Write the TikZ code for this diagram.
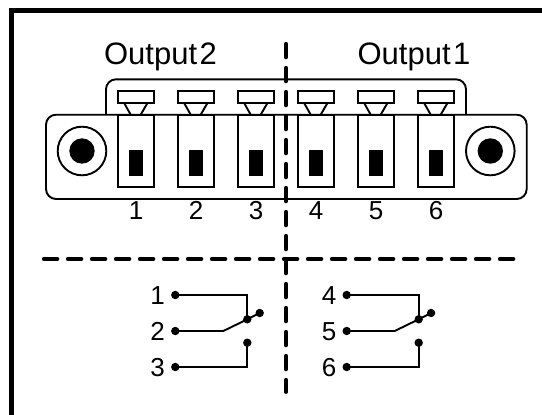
\documentclass[tikz,border=0pt]{standalone}
\usepackage{fontspec}
\setmainfont{Liberation Sans}
\tikzset{
  x=1pt,y=-1pt,
  outline/.style={draw=black,line width=1.9pt,line join=miter},
  solidblack/.style={fill=black,draw=none},
  framebar/.style={draw=black,line width=4.8pt},
  divider/.style={draw=black,line width=3.8pt,line cap=round,dash pattern=on 13.6pt off 10.4pt},
  wire/.style={draw=black,line width=1.9pt},
  dot/.style={circle,fill=black,draw=none,minimum size=8.4pt,inner sep=0pt},
  biglabel/.style={font=\fontsize{31}{31}\selectfont,inner sep=0pt},
  pinlabel/.style={font=\fontsize{26}{26}\selectfont,inner sep=0pt,text height=18pt,text depth=0pt},
}
\begin{document}
\begin{tikzpicture}
\useasboundingbox (0,0) rectangle (542,415);
\fill[white] (0,0) rectangle (542,415);
% frame
\draw[framebar] (11.5,415) -- (11.5,10.3) -- (542,10.3);
% connector shell
\draw[outline,rounded corners=10pt] (106,114.7) -- (106,79.3) -- (466,79.3) -- (466,114.7);
\draw[outline,rounded corners=10pt] (46,114.7) rectangle (526.7,199);
% pins
\foreach \i/\x in {1/118,2/178,3/238,4/298,5/358,6/418}{
  \draw[outline] (\x+6.3,103.3) -- (\x+12.7,114.7);
  \draw[outline] (\x+29.3,103.3) -- (\x+22.7,114.7);
  \draw[outline] (\x,90.7) rectangle (\x+36.4,103.3);
  \draw[outline] (\x,114.7) rectangle (\x+36.4,187.3);
  \fill[solidblack] (\x+11.3,150) rectangle (\x+25.3,176);
  \node[pinlabel] (pin\i) at (\x+18,210) {\i};
}
% screws
\foreach \n/\x in {l/82,r/490.3}{
  \node[circle,draw=black,line width=1.9pt,minimum size=48.6pt,inner sep=0pt] (ring\n) at (\x,151) {};
  \node[circle,fill=black,minimum size=25.4pt,inner sep=0pt] (hole\n) at (\x,151) {};
}
% headings
\node[biglabel,anchor=center] (out2) at (160.5,57) {Output\hspace{0.08em}2};
\node[biglabel,anchor=center] (out1) at (414,57) {Output\hspace{0.08em}1};
% schematic
\foreach \s/\a/\b/\c/\dx in {1/1/2/3/0,4/4/5/6/171.4}{
  \begin{scope}[xshift=\dx pt]
    \node[pinlabel] (lab\a) at (157.7,295) {\a};
    \node[pinlabel] (lab\b) at (157.7,331) {\b};
    \node[pinlabel] (lab\c) at (157.7,367) {\c};
    \node[dot] (t\a) at (175.3,295) {};
    \node[dot] (t\b) at (175.3,331) {};
    \node[dot] (t\c) at (175.3,367) {};
    \node[dot] (com\s) at (247.3,319.3) {};
    \node[dot] (open\s) at (259.7,313) {};
    \node[dot] (nc\s) at (247.3,342.7) {};
    \coordinate (bend\s) at (223.3,331);
    \draw[wire] (t\a.center) -- (t\a.center -| com\s.center) -- (com\s.center);
    \draw[wire] (t\b.center) -- (bend\s) -- (com\s.center) -- (open\s.center);
    \draw[wire] (t\c.center) -- (t\c.center -| nc\s.center) -- (nc\s.center);
  \end{scope}
}
% dividers
\coordinate (vtop) at (286,43.8);
\coordinate (vbot) at (286,392);
\coordinate (hleft) at (43.8,259);
\coordinate (hright) at (516,259);
\draw[divider] (vtop) -- (vbot);
\draw[divider] (hleft) -- (hright);
\end{tikzpicture}
\end{document}
